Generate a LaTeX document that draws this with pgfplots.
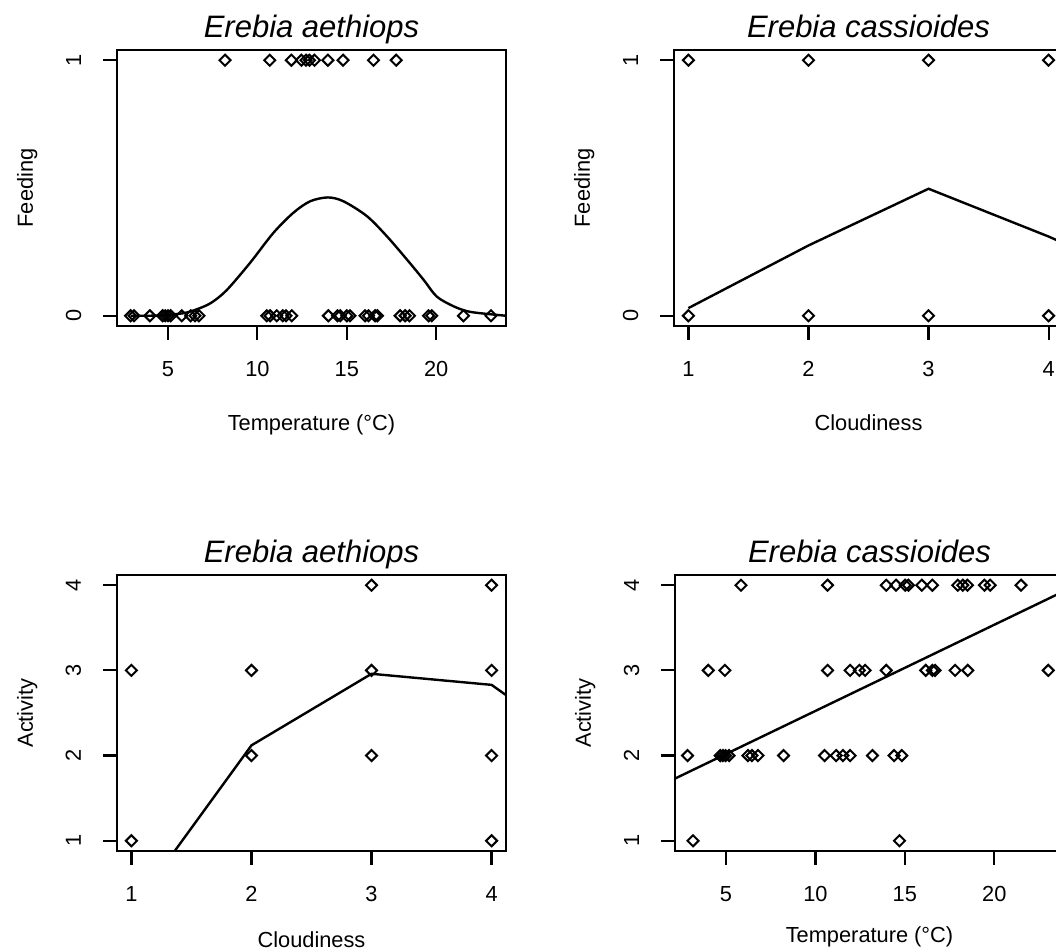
\documentclass[border=0pt]{standalone}
\usepackage{pgfplots}
\pgfplotsset{compat=1.18}
\usepackage{fontspec}
\setmainfont{Liberation Sans}
\pgfplotsset{
 rpanel/.style={
  scale only axis, width=194.5pt, height=138pt,
  anchor=south west,
  axis line style={line width=1.3pt},
  tick align=outside, major tick length=7pt,
  tick style={black, line width=1.1pt},
  xtick pos=left, ytick pos=left,
  ticklabel style={font=\fontsize{10.9}{12}\selectfont, inner sep=0pt},
  xticklabel style={anchor=base},
  yticklabel style={rotate=90, anchor=base},
  xticklabel shift=18.5pt,
  yticklabel shift=11pt,
  /pgf/number format/assume math mode=true,
  title style={at={(axis description cs:0.5,1.047)}, anchor=base, yshift=-6pt, font=\fontsize{15.5}{18}\selectfont\itshape, inner sep=0pt},
  xlabel style={anchor=base, inner sep=0pt, font=\fontsize{10.9}{12}\selectfont},
  ylabel style={at={(axis description cs:-0.216,0.5)}, anchor=base, inner sep=0pt, font=\fontsize{10.9}{12}\selectfont},
 },
 pts/.style={only marks, mark=square, mark size=1.95pt, mark options={rotate=45, line width=1pt, black, fill=none}},
 fit/.style={no marks, black, line width=1.2pt},
}
\begin{document}
\begin{tikzpicture}
\path[use as bounding box] (0,0) rectangle (528pt,475.5pt);
\clip (0,0) rectangle (528pt,475.5pt);
% ---------- Panel 1: Feeding vs Temperature, E. aethiops
\begin{axis}[rpanel, at={(58.5pt,312.5pt)},
  xmin=2.15, xmax=23.9, ymin=-0.04, ymax=1.04,
  xtick={5,10,15,20}, ytick={0,1},
  title={Erebia aethiops}, xlabel={Temperature (°C)}, ylabel={Feeding},
  xlabel style={at={(axis description cs:0.5,-0.3786)}}]
\addplot[pts] coordinates {
 (8.19,1)(10.69,1)(11.90,1)(12.46,1)(12.72,1)(12.91,1)(13.19,1)(13.94,1)(14.79,1)(16.49,1)(17.76,1)
 (2.91,0)(3.10,0)(3.99,0)(4.70,0)(4.85,0)(5.00,0)(5.15,0)(5.77,0)(6.27,0)(6.51,0)(6.73,0)
 (10.52,0)(10.71,0)(11.08,0)(11.42,0)(11.60,0)(11.92,0)(13.97,0)(14.48,0)(14.63,0)(15.00,0)(15.18,0)
 (16.02,0)(16.21,0)(16.58,0)(16.71,0)(17.98,0)(18.26,0)(18.50,0)(19.57,0)(19.75,0)(21.52,0)(23.06,0)};
\addplot[fit, smooth, tension=0.5] coordinates {
 (2.91,0.0)(4.5,0.001)(5.86,0.010)(6.6,0.025)(7.4,0.05)(8.28,0.100)(9.59,0.207)(10.89,0.324)
 (12.01,0.403)(12.95,0.448)(13.94,0.463)(14.81,0.448)(16.12,0.390)(17.24,0.311)(18.36,0.220)
 (19.29,0.141)(20.03,0.075)(20.97,0.037)(21.72,0.018)(22.46,0.010)(23.9,0.0)};
\end{axis}
% ---------- Panel 2: Feeding vs Cloudiness, E. cassioides
\begin{axis}[rpanel, at={(337pt,312.5pt)},
  xmin=0.88, xmax=4.12, ymin=-0.04, ymax=1.04,
  xtick={1,2,3,4}, ytick={0,1},
  title={Erebia cassioides}, xlabel={Cloudiness}, ylabel={Feeding},
  xlabel style={at={(axis description cs:0.5,-0.3786)}}]
\addplot[pts] coordinates {(1,0)(1,1)(2,0)(2,1)(3,0)(3,1)(4,0)(4,1)};
\addplot[fit] coordinates {(1,0.03)(2,0.275)(3,0.497)(4,0.31)(4.12,0.285)};
\end{axis}
% ---------- Panel 3: Activity vs Cloudiness, E. aethiops
\begin{axis}[rpanel, at={(58.5pt,50pt)},
  xmin=0.88, xmax=4.12, ymin=0.88, ymax=4.12,
  xtick={1,2,3,4}, ytick={1,2,3,4},
  title={Erebia aethiops}, xlabel={Cloudiness}, ylabel={Activity},
  xlabel style={at={(axis description cs:0.5,-0.3496)}}]
\addplot[pts] coordinates {(1,3)(1,1)(2,3)(2,2)(3,4)(3,3)(3,2)(4,4)(4,3)(4,2)(4,1)};
\addplot[fit] coordinates {(1,0.18)(2,2.12)(3,2.96)(4,2.83)(4.12,2.71)};
\end{axis}
% ---------- Panel 4: Activity vs Temperature, E. cassioides
\begin{axis}[rpanel, at={(337.5pt,50pt)},
  xmin=2.15, xmax=23.9, ymin=0.88, ymax=4.12,
  xtick={5,10,15,20}, ytick={1,2,3,4},
  title={Erebia cassioides}, xlabel={Temperature (°C)}, ylabel={Activity},
  xlabel style={at={(axis description cs:0.5,-0.3315)}}]
\addplot[pts] coordinates {
 (5.84,4)(10.68,4)(13.96,4)(14.51,4)(15.02,4)(15.20,4)(15.95,4)(16.54,4)(17.96,4)(18.24,4)(18.50,4)(19.45,4)(19.77,4)(21.50,4)
 (4.01,3)(4.94,3)(10.68,3)(11.94,3)(12.46,3)(12.78,3)(13.96,3)(16.17,3)(16.54,3)(16.69,3)(17.81,3)(18.52,3)(23.02,3)
 (2.85,2)(4.68,2)(4.83,2)(4.98,2)(5.17,2)(6.23,2)(6.45,2)(6.79,2)(8.22,2)(10.51,2)(11.16,2)(11.54,2)(11.94,2)(13.19,2)(14.40,2)(14.83,2)
 (3.16,1)(14.70,1)};
\addplot[fit] coordinates {(2.15,1.73)(23.9,3.93)};
\end{axis}
\end{tikzpicture}
\end{document}
